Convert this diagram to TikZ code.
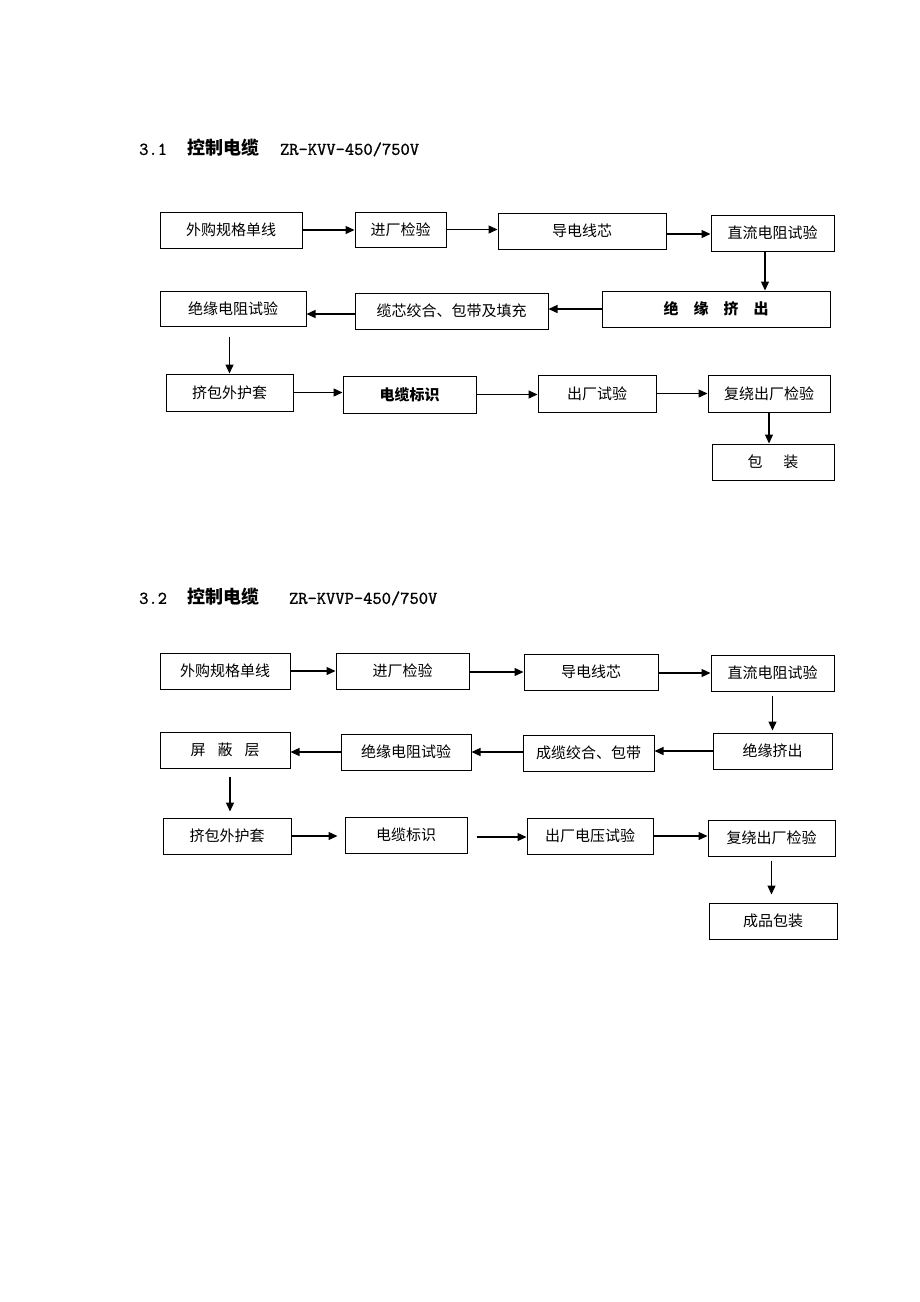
\documentclass[tikz,border=0pt]{standalone}
\usepackage{fontspec}
\setmainfont{Noto Sans CJK SC}
\newfontfamily\monofont{Latin Modern Mono}[FakeBold=1.2]
\usetikzlibrary{arrows.meta}

\begin{document}
\begin{tikzpicture}[x=1pt, y=-1pt]
	 \tikzset{
	 	proc/.style={draw, line width=1pt, inner sep=0pt, minimum height=36pt,
	 		font=\fontsize{15}{18}\selectfont},
	 	arr/.style={line width=1.3pt, -{Triangle[length=9pt, width=8pt]}},
	 	head/.style={anchor=west, inner sep=0pt, font=\fontsize{18}{20}\selectfont}
	 }
	 \useasboundingbox (0, 0) rectangle (920, 1302);
 
	 % 3.1
	 \node[head] (t1) at (139, 148) {{\monofont\bfseries 3.1}\hspace{20pt}\textbf{控制电缆}\hspace{21pt}{\monofont\bfseries ZR-KVV-450/750V}};
 
	 \node[proc, minimum width=142pt] (a1) at (231, 230) {外购规格单线};
	 \node[proc, minimum width=91pt, minimum height=35pt] (a2) at (400.5, 229.5) {进厂检验};
	 \node[proc, minimum width=168pt] (a3) at (582, 231) {导电线芯};
	 \node[proc, minimum width=123pt] (a4) at (772.5, 233) {直流电阻试验};
	 \node[proc, minimum width=228pt, font=\fontsize{15}{18}\selectfont\bfseries] (b4) at (716, 309) {绝\quad 缘\quad 挤\quad 出};
	 \node[proc, minimum width=193pt] (b3) at (451.5, 311) {缆芯绞合、包带及填充};
	 \node[proc, minimum width=146pt, minimum height=35pt] (b1) at (233, 308.5) {绝缘电阻试验};
	 \node[proc, minimum width=127pt, minimum height=37pt] (c1) at (229.5, 392.5) {挤包外护套};
	 \node[proc, minimum width=133pt, minimum height=37pt, font=\fontsize{15}{18}\selectfont\bfseries] (c2) at (409.5, 394.5) {电缆标识};
	 \node[proc, minimum width=118pt, minimum height=37pt] (c3) at (597, 393.5) {出厂试验};
	 \node[proc, minimum width=122pt, minimum height=37pt] (c4) at (769, 393.5) {复绕出厂检验};
	 \node[proc, minimum width=122pt] (d4) at (773, 462) {包\hspace{1.4em}装};
 
	 \draw[arr] (a1.east) -- (a1.east -| a2.west);
	 \draw[arr] (a2.east) -- (a2.east -| a3.west);
	 \draw[arr] ([yshift=-3pt]a3.east) -- ([yshift=-3pt]a3.east -| a4.west);
	 \draw[arr] ([xshift=-7.5pt]a4.south) -- ([xshift=-7.5pt]a4.south |- b4.north);
	 \draw[arr] (b4.west) -- (b4.west -| b3.east);
	 \draw[arr] ([yshift=-3pt]b3.west) -- ([yshift=-3pt]b3.west -| b1.east);
	 \draw[arr, shorten <=10pt] (b1.south -| c1.north) -- (c1.north);
	 \draw[arr] (c1.east) -- (c1.east -| c2.west);
	 \draw[arr] (c2.east) -- (c2.east -| c3.west);
	 \draw[arr] (c3.east) -- (c3.east -| c4.west);
	 \draw[arr] (c4.south) -- (c4.south |- d4.north);
 
	 % 3.2
	 \node[head] (t2) at (139, 597) {{\monofont\bfseries 3.2}\hspace{20pt}\textbf{控制电缆}\hspace{30pt}{\monofont\bfseries ZR-KVVP-450/750V}};
 
	 \node[proc, minimum width=130pt] (e1) at (225, 671) {外购规格单线};
	 \node[proc, minimum width=133pt] (e2) at (402.5, 671) {进厂检验};
	 \node[proc, minimum width=134pt] (e3) at (591, 672) {导电线芯};
	 \node[proc, minimum width=123pt] (e4) at (772.5, 673) {直流电阻试验};
	 \node[proc, minimum width=119pt] (f4) at (772.5, 751) {绝缘挤出};
	 \node[proc, minimum width=131pt] (f3) at (588.5, 753) {成缆绞合、包带};
	 \node[proc, minimum width=130pt] (f2) at (406, 752) {绝缘电阻试验};
	 \node[proc, minimum width=130pt] (f1) at (225, 750) {屏\hspace{0.8em}蔽\hspace{0.8em}层};
	 \node[proc, minimum width=128pt] (g1) at (227, 836) {挤包外护套};
	 \node[proc, minimum width=122pt] (g2) at (406, 835) {电缆标识};
	 \node[proc, minimum width=126pt] (g3) at (590, 836) {出厂电压试验};
	 \node[proc, minimum width=127pt] (g4) at (771.5, 838) {复绕出厂检验};
	 \node[proc, minimum width=128pt] (h4) at (773, 921) {成品包装};
 
	 \draw[arr] (e1.east) -- (e1.east -| e2.west);
	 \draw[arr] ([yshift=-1pt]e2.east) -- ([yshift=-1pt]e2.east -| e3.west);
	 \draw[arr] ([yshift=-1pt]e3.east) -- ([yshift=-1pt]e3.east -| e4.west);
	 \draw[arr, shorten <=4pt, shorten >=2pt] (e4.south) -- (e4.south |- f4.north);
	 \draw[arr] (f4.west) -- (f4.west -| f3.east);
	 \draw[arr] (f2.east -| f3.west) -- (f2.east);
	 \draw[arr] (f2.west) -- (f2.west -| f1.east);
	 \draw[arr, shorten <=8pt, shorten >=6pt] ([xshift=5pt]f1.south) -- ([xshift=5pt]f1.south |- g1.north);
	 \draw[arr, shorten >=7pt] (g1.east) -- (g1.east -| g2.west);
	 \draw[arr, shorten <=9pt] ([yshift=-2pt]g2.east) -- ([yshift=-2pt]g2.east -| g3.west);
	 \draw[arr] (g3.east) -- (g3.east -| g4.west);
	 \draw[arr, shorten <=4pt, shorten >=8pt] (g4.south) -- (g4.south |- h4.north);
\end{tikzpicture}
\end{document}
